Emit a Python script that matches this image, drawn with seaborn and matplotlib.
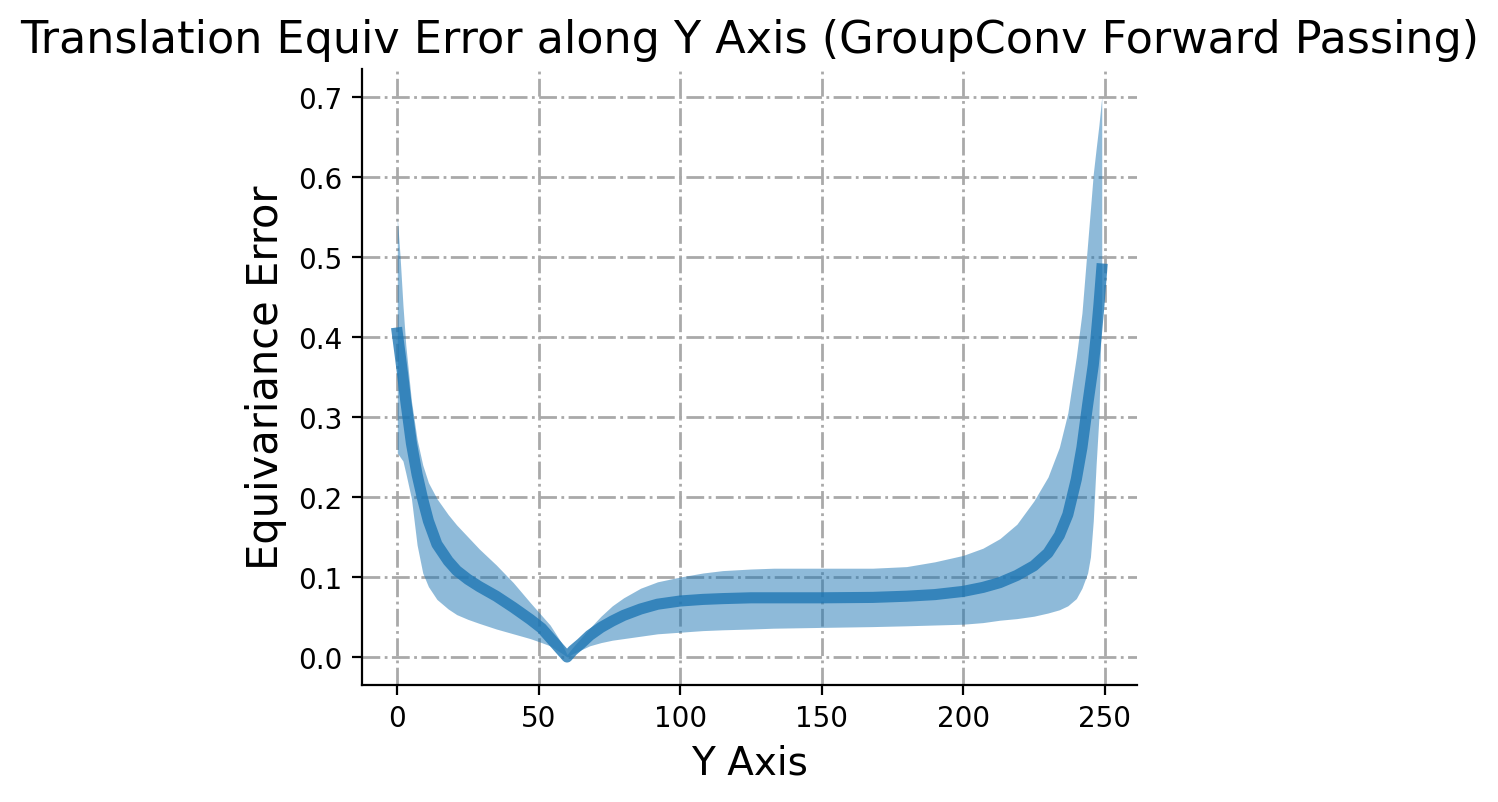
import matplotlib
matplotlib.use("Agg")
import matplotlib.pyplot as plt
import numpy as np
import pandas as pd
import seaborn as sns

# positions along the y axis (pixels) where values were read
y_pos = [0, 1, 2, 3, 5, 7, 9, 11, 14, 18, 21, 25, 29, 35, 41, 47, 51, 54, 58, 60,
         62, 65, 68, 72, 76, 80, 86, 92, 100, 108, 115, 125, 133, 150, 168, 180,
         190, 200, 207, 213, 219, 225, 230, 234, 237, 240, 242, 244, 245, 246,
         247, 248, 249]

# mean equivariance error
err_mean = [0.405, 0.378, 0.350, 0.320, 0.267, 0.228, 0.197, 0.170, 0.141, 0.120,
            0.108, 0.097, 0.088, 0.076, 0.062, 0.047, 0.036, 0.024, 0.008, 0.000,
            0.008, 0.017, 0.027, 0.037, 0.045, 0.052, 0.060, 0.066, 0.070, 0.072,
            0.073, 0.074, 0.074, 0.074, 0.0745, 0.076, 0.078, 0.082, 0.087,
            0.093, 0.102, 0.114, 0.130, 0.152, 0.178, 0.222, 0.262, 0.315, 0.340,
            0.365, 0.400, 0.440, 0.485]

# upper edge of shaded band
err_upper = [0.550, 0.500, 0.440, 0.390, 0.320, 0.272, 0.240, 0.218, 0.198, 0.178,
             0.165, 0.150, 0.135, 0.115, 0.093, 0.068, 0.052, 0.040, 0.018, 0.003,
             0.012, 0.024, 0.036, 0.051, 0.064, 0.074, 0.086, 0.094, 0.100, 0.105,
             0.108, 0.110, 0.111, 0.111, 0.111, 0.113, 0.119, 0.127, 0.136, 0.148,
             0.166, 0.195, 0.225, 0.262, 0.305, 0.375, 0.430, 0.517, 0.560, 0.604,
             0.635, 0.665, 0.700]

# lower edge of shaded band
err_lower = [0.255, 0.250, 0.245, 0.230, 0.198, 0.140, 0.105, 0.088, 0.072, 0.060,
             0.053, 0.047, 0.042, 0.035, 0.029, 0.023, 0.018, 0.014, 0.005, 0.000,
             0.004, 0.009, 0.014, 0.018, 0.021, 0.023, 0.026, 0.029, 0.031, 0.033,
             0.034, 0.035, 0.036, 0.037, 0.038, 0.039, 0.040, 0.041, 0.043, 0.046,
             0.048, 0.051, 0.055, 0.059, 0.064, 0.073, 0.086, 0.105, 0.125, 0.170,
             0.240, 0.300, 0.450]

df = pd.DataFrame({"y": y_pos, "mean": err_mean, "lo": err_lower, "hi": err_upper})

sns.set_style("ticks", {"axes.edgecolor": "black", "text.color": "black",
                        "axes.labelcolor": "black", "xtick.color": "black",
                        "ytick.color": "black"})
plt.rcParams["font.family"] = ["DejaVu Sans"]

fig = plt.figure(figsize=(7.49, 4.015), dpi=200)
ax = fig.add_axes([0.2417, 0.1457, 0.5173, 0.7671])

ax.fill_between(df["y"], df["lo"], df["hi"], color="tab:blue", alpha=0.5, linewidth=0)
sns.lineplot(data=df, x="y", y="mean", ax=ax, color="tab:blue", alpha=0.8, linewidth=4)
ax.lines[0].set_solid_capstyle("projecting")

ax.grid(True, linestyle="-.", color="darkgray", linewidth=1)
sns.despine(ax=ax)
ax.tick_params(labelsize=10)

ax.set_title("Translation Equiv Error along Y Axis (GroupConv Forward Passing)", fontsize=16)
ax.set_xlabel("Y Axis", fontsize=14)
ax.set_ylabel("Equivariance Error", fontsize=15)

fig.savefig("out.png", dpi=200)
